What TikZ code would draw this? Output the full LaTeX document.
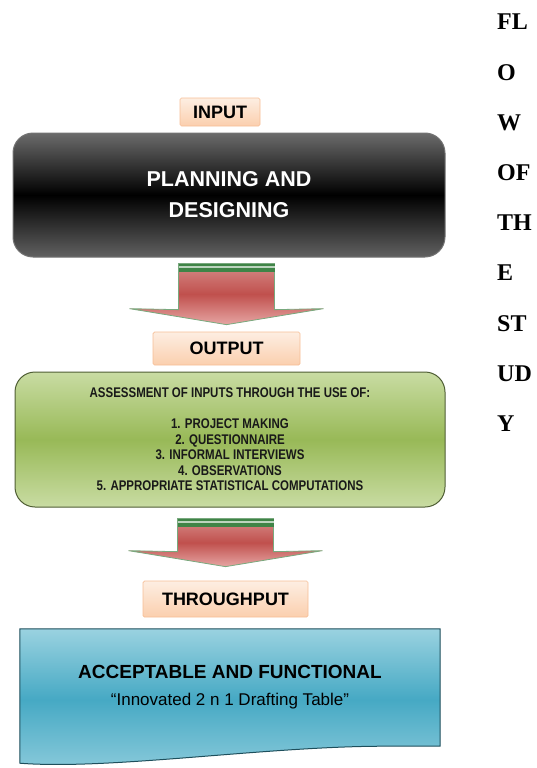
\documentclass[tikz,border=0pt]{standalone}
\usepackage{fontspec}
\setmainfont{Liberation Sans}
\newfontfamily\serifword{Liberation Serif}
\newfontfamily\narrowfont[FakeStretch=0.82]{Liberation Sans}
\usetikzlibrary{calc, backgrounds}

\definecolor{tagtop}{HTML}{FDEEE2}
\definecolor{tagbottom}{HTML}{FBCFAE}
\definecolor{tagline}{HTML}{F6BE96}
\definecolor{greenlight}{HTML}{C9DCA3}
\definecolor{greenmid}{HTML}{98B957}
\definecolor{greenline}{HTML}{4F5E34}
\definecolor{bluelight}{HTML}{9AD2E0}
\definecolor{bluemid}{HTML}{46A9C4}
\definecolor{blueline}{HTML}{1E4F5C}
\definecolor{redtop}{HTML}{D68B88}
\definecolor{redmid}{HTML}{C0504D}
\definecolor{redbottom}{HTML}{E6A5A3}
\definecolor{stripe}{HTML}{3F8447}

\tikzset{
  titleword/.style={anchor=west, inner sep=0pt, font=\serifword\bfseries\fontsize{24}{26}\selectfont},
  tag/.style={draw=tagline, line width=0.7pt, rounded corners=1.5pt, top color=tagtop, bottom color=tagbottom,
    inner sep=0pt, font=\bfseries\fontsize{18}{20}\selectfont},
  planbox/.style={draw=black!55, line width=1pt, rounded corners=20pt, minimum width=432, minimum height=124,
    top color=black!58, bottom color=black!62, middle color=black, text=white, align=center,
    font=\bfseries\fontsize{21.5}{31}\selectfont},
  assessbox/.style={draw=greenline, line width=1pt, rounded corners=20pt, minimum width=430, minimum height=135,
    top color=greenlight, bottom color=greenlight, middle color=greenmid, text=black!90, align=center,
    font=\narrowfont\bfseries\fontsize{14}{15.5}\selectfont},
  resultbox/.style={draw=blueline, line width=1pt, top color=bluelight, bottom color=bluelight!80!bluemid, middle color=bluemid},
  arrowbody/.style={draw=stripe!70!white, line width=0.8pt, top color=redtop, bottom color=redbottom, middle color=redmid}
}

\newcommand\flowarrow[2]{%
  \draw[arrowbody] ($(#1)+(-48,0)$) -- ($(#1)+(48,0)$) -- ($(#2)+(48,-15)$) -- ($(#2)+(97,-16)$)
    -- (#2) -- ($(#2)+(-97,-16)$) -- ($(#2)+(-48,-15)$) -- cycle;
  \fill[stripe] ($(#1)+(-48,0)$) rectangle ($(#1)+(48,8)$);
  \draw[stripe!35!white, line width=1.2pt] ($(#1)+(-48,3.5)$) -- ($(#1)+(48,3.5)$);
}

\begin{document}
\begin{tikzpicture}[x=1pt, y=-1pt]
  \useasboundingbox (0,0) rectangle (537,768);

  % title down the right side
  \foreach \w [count=\i] in {FL,O,W,OF,TH,E,ST,UD,Y}
    \node[titleword] (t\i) at (497, 22+50.2*\i-50.2) {\w};

  \node[tag, minimum width=80, minimum height=28] (input) at (220,112) {INPUT};
  \node[planbox] (plan) at (229,195) {PLANNING AND\\DESIGNING};

  \node[tag, minimum width=147, minimum height=33] (out) at (226.5,348.5) {OUTPUT};
  \node[assessbox] (assess) at (230,439.5) {ASSESSMENT OF INPUTS THROUGH THE USE OF:\\[15.5pt]
    1. PROJECT MAKING\\
    2. QUESTIONNAIRE\\
    3. INFORMAL INTERVIEWS\\
    4. OBSERVATIONS\\
    5. APPROPRIATE STATISTICAL COMPUTATIONS};

  \node[tag, minimum width=165, minimum height=36] (thru) at (225.5,599) {THROUGHPUT};
  \node[minimum width=420, minimum height=117, align=center, font=\bfseries\fontsize{19}{27}\selectfont] (result) at (230,687.5)
    {ACCEPTABLE AND FUNCTIONAL\\
     {\mdseries\fontsize{17}{27}\selectfont “Innovated 2 n 1 Drafting Table”}};
  \begin{scope}[on background layer]
    \draw[resultbox] (result.north west) -- (result.north east) -- (result.south east) -- ++(-55,0)
      .. controls ++(-120,0) and ($(result.south west)+(90,24)$) .. ($(result.south west)+(0,17)$) -- cycle;
  \end{scope}

  % block arrows between the stages
  \coordinate (a1top) at ([yshift=-6pt]out.north |- plan.south);
  \coordinate (a1tip) at ([yshift=7pt]out.north);
  \flowarrow{a1top}{a1tip}
  \coordinate (a2top) at ([yshift=-11pt]thru.north |- assess.south);
  \coordinate (a2tip) at ([yshift=14pt]thru.north);
  \flowarrow{a2top}{a2tip}
\end{tikzpicture}
\end{document}
